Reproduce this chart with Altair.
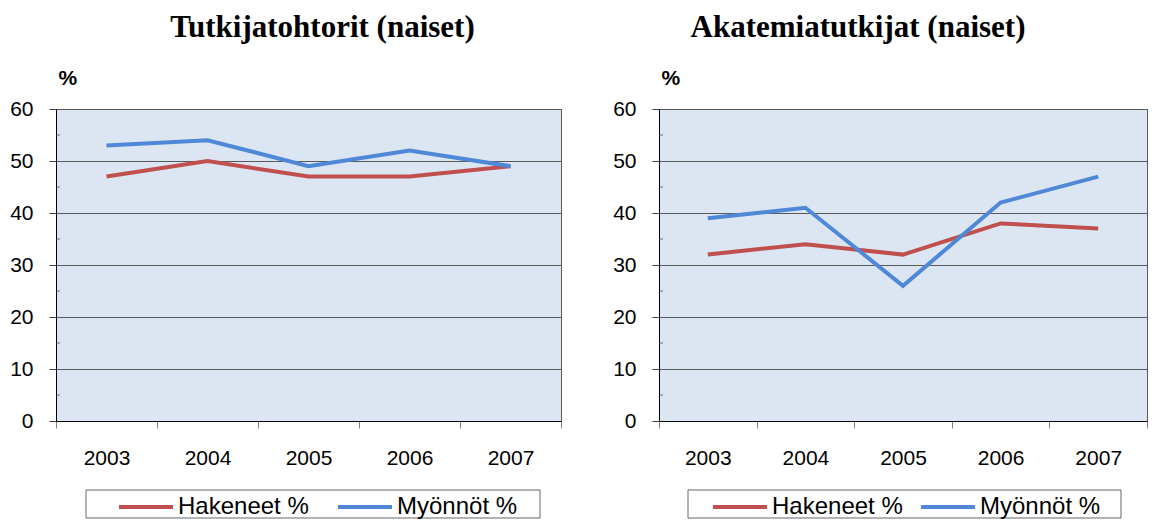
import altair as alt
import pandas as pd

years = ["2003", "2004", "2005", "2006", "2007"]
series = ["Hakeneet %", "Myönnöt %"]
tutk_hakeneet = [47, 50, 47, 47, 49]
tutk_myonnot = [53, 54, 49, 52, 49]
akat_hakeneet = [32, 34, 32, 38, 37]
akat_myonnot = [39, 41, 26, 42, 47]
y_ticks = [0, 10, 20, 30, 40, 50, 60]
y_minor = [5, 15, 25, 35, 45, 55]
titles = ["Tutkijatohtorit (naiset)", "Akatemiatutkijat (naiset)"]
colors = ["#C0504D", "#4E88D6"]

SANS = "Liberation Sans"
SERIF = "Liberation Serif"


def long_df(h, m):
    rows = []
    for yr, v in zip(years, h):
        rows.append({"year": yr, "series": series[0], "value": v})
    for yr, v in zip(years, m):
        rows.append({"year": yr, "series": series[1], "value": v})
    return pd.DataFrame(rows)


def panel(df, title, width, title_dx, legend_x, legend_y, colpad, frame):
    x = alt.X(
        "year:O",
        scale=alt.Scale(domain=years, paddingInner=0, paddingOuter=0),
        axis=alt.Axis(
            title=None, labelAngle=0, tickBand="extent", tickSize=7,
            tickColor="#808080", domainColor="#000000", labelFontSize=21,
            labelFont=SANS, labelColor="#000000", labelPadding=19, grid=False,
        ),
    )
    y_axis = alt.Axis(
        values=y_ticks, title="%", titleAngle=0, titleAlign="left",
        titleBaseline="middle", titleX=2, titleY=-31, titleFontSize=21,
        titleFont=SANS, titleFontWeight="bold", titleColor="#000000",
        grid=True, gridColor="#595959", tickSize=7, tickColor="#404040",
        domainColor="#000000", labelFontSize=21, labelPadding=16,
        labelFont=SANS, labelColor="#000000",
    )
    y_scale = alt.Scale(domain=[0, 60], nice=False, zero=True)
    y = alt.Y("value:Q", scale=y_scale, axis=y_axis, title="%")
    lines = alt.Chart(df).mark_line(strokeWidth=4).encode(
        x=x,
        y=y,
        color=alt.Color(
            "series:N",
            scale=alt.Scale(domain=series, range=colors),
            legend=alt.Legend(
                title=None, orient="none", legendX=legend_x, legendY=legend_y,
                direction="horizontal", symbolType="stroke", symbolSize=2916,
                symbolStrokeWidth=4, labelFontSize=24, labelFont=SANS,
                labelOffset=3, columnPadding=colpad, labelColor="#000000",
                padding=0, clipHeight=24, gridAlign="none",
            ),
        ),
    )
    minor = alt.Chart(pd.DataFrame({"value": y_minor})).mark_tick(
        orient="horizontal", size=4, thickness=1, color="#404040"
    ).encode(y=alt.Y("value:Q", scale=y_scale, axis=y_axis, title="%"),
             x=alt.value(2))
    box = alt.Chart(pd.DataFrame({"a": [0]})).mark_rect(
        fillOpacity=0, stroke="#666666", strokeWidth=1
    ).encode(
        x=alt.value(frame[0]), x2=alt.value(frame[1]),
        y=alt.value(frame[2]), y2=alt.value(frame[3]),
    )
    return alt.layer(lines, minor, box).properties(
        width=width,
        height=312,
        title=alt.Title(
            title, font=SERIF, fontSize=31, fontWeight="bold", color="#000000",
            dx=title_dx, offset=23, anchor="middle",
        ),
    )


left = panel(long_df(tutk_hakeneet, tutk_myonnot), titles[0], 505, 14,
             61, 386, 27, [30, 484, 381, 409])
right = panel(long_df(akat_hakeneet, akat_myonnot), titles[1], 488, -45,
              52, 386, 16, [29, 462, 381, 409])

chart = alt.hconcat(left, right, spacing=50).resolve_scale(
    color="independent", x="independent", y="independent"
).resolve_legend(color="independent").properties(
    padding={"left": 1, "top": 3, "right": 0, "bottom": 0},
    background="#FFFFFF",
).configure_view(fill="#DCE6F2", stroke="#595959", strokeWidth=1)

chart.save("out.html", embed_options={"renderer": "svg", "actions": False})
